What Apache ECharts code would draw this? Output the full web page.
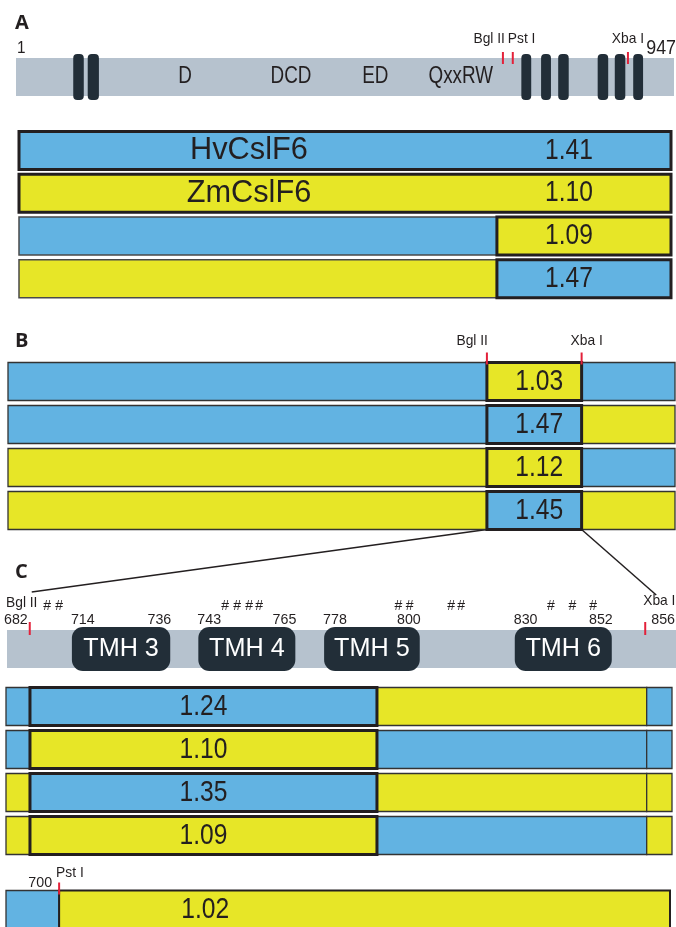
<!DOCTYPE html>
<html>
<head>
<meta charset="utf-8">
<script src="https://cdn.jsdelivr.net/npm/echarts@6/dist/echarts.min.js"></script>
<style>
  html, body { margin: 0; padding: 0; background: #fff; }
  #main { width: 676px; height: 927px; }
</style>
</head>
<body>
<div id="main"></div>
<script>
// ---------- data (x positions are % along each drawn bar) ----------
// A: full length CslF6 map
const aEnds = ['1', '947'];
const aMotifs = ['D', 'DCD', 'ED', 'QxxRW'];
const aMotifPos = [25.7, 41.8, 54.6, 67.6];
const aTmStart = [8.7, 10.9, 76.8, 79.8, 82.4, 88.4, 91.0, 93.8];
const aTmEnd = [10.3, 12.6, 78.3, 81.3, 84.0, 90.0, 92.6, 95.3];
const aSites = ['Bgl II', 'Pst I', 'Xba I'];
const aSitePos = [74.0, 75.5, 93.0];
// A: parent and chimeric constructs
const aNames = ['HvCslF6', 'ZmCslF6', '', ''];
const aLeft = ['Hv', 'Zm', 'Hv', 'Zm'];
const aRight = ['Hv', 'Zm', 'Zm', 'Hv'];
const aSwap = 73.3;
const aRatio = [1.41, 1.10, 1.09, 1.47];
// B: Bgl II - Xba I swaps
const bSites = ['Bgl II', 'Xba I'];
const bSitePos = [71.8, 86.0];
const bLeft = ['Hv', 'Hv', 'Zm', 'Zm'];
const bMid = ['Zm', 'Hv', 'Zm', 'Hv'];
const bRight = ['Hv', 'Zm', 'Hv', 'Zm'];
const bRatio = [1.03, 1.47, 1.12, 1.45];
// C: TMH 3-6 region
const cSites = ['Bgl II', 'Xba I'];
const cSiteRes = [682, 856];
const cSitePos = [3.4, 95.4];
const cTmh = ['TMH 3', 'TMH 4', 'TMH 5', 'TMH 6'];
const cTmhStartRes = [714, 743, 778, 830];
const cTmhEndRes = [736, 765, 800, 852];
const cTmhStart = [9.7, 28.6, 47.4, 75.9];
const cTmhEnd = [24.4, 43.1, 61.7, 90.4];
const cHashPos = [6.0, 7.8, 32.6, 34.4, 36.2, 37.7, 58.5, 60.2, 66.4, 67.9, 81.3, 84.5, 87.6];
const cCuts = [3.6, 55.7, 96.2];
const cSeg1 = ['Hv', 'Hv', 'Zm', 'Zm'];
const cSeg2 = ['Hv', 'Zm', 'Hv', 'Zm'];
const cSeg3 = ['Zm', 'Hv', 'Zm', 'Hv'];
const cSeg4 = ['Hv', 'Hv', 'Zm', 'Zm'];
const cRatio = [1.24, 1.10, 1.35, 1.09];
// bottom: Pst I construct
const dSite = ['Pst I'];
const dSiteRes = [700];
const dCut = 8.0;
const dLeft = 'Hv';
const dRight = 'Zm';
const dRatio = [1.02];

// ---------- styles ----------
const COL = { Hv: '#62b3e2', Zm: '#e7e627' };
const GREY = '#b6c2ce';
const DARK = '#222e38';
const RED = '#e3213a';
const INK = '#231f20';
const FONT = "'Liberation Sans', Arial, sans-serif";
const ROW_H = 38;

const grids = [
  { left: 16, top: 58, width: 658, height: 38, rows: 1 },   // A map
  { left: 19, top: 129, width: 652, height: 171, rows: 4 }, // A constructs
  { left: 8, top: 360, width: 667, height: 172, rows: 4 },  // B
  { left: 7, top: 630, width: 669, height: 38, rows: 1 },   // C map
  { left: 6, top: 685, width: 666, height: 172, rows: 4 },  // C constructs
  { left: 6, top: 892, width: 664, height: 43, rows: 1 }    // Pst I construct
];
const feats = grids.map(() => []);

const rect = (g, row, x0, x1, fill, stroke, lw, h, r) =>
  feats[g].push({ kind: 'rect', row, x0, x1, fill, stroke, lw, h: h || ROW_H, r: r || 0 });
const tick = (g, row, x, y1, y2) => feats[g].push({ kind: 'tick', row, x0: x, y1, y2 });
const text = (g, row, x, t, o) => feats[g].push(Object.assign({ kind: 'text', row, x0: x, text: t }, o));

const BIG = { size: 30, sx: 0.82 };
const SITE = { size: 15, sx: 0.92 };
const NUM = { size: 15, sx: 0.95 };

// A map
rect(0, 0, 0, 100, GREY, null, 0);
aTmStart.forEach((s, i) => rect(0, 0, s, aTmEnd[i], DARK, null, 0, 46, 4));
aMotifs.forEach((m, i) => text(0, 0, aMotifPos[i], m, { size: 23, sx: 0.82 }));
aSitePos.forEach(p => tick(0, 0, p, -25, -13));
text(0, 0, aSitePos[0], aSites[0], Object.assign({ align: 'right', dx: 2, dy: -38 }, SITE));
text(0, 0, aSitePos[1], aSites[1], Object.assign({ align: 'left', dx: -5, dy: -38 }, SITE));
text(0, 0, aSitePos[2], aSites[2], Object.assign({ dy: -38 }, SITE));
text(0, 0, 0, aEnds[0], { size: 17, sx: 0.9, align: 'left', dx: 1, dy: -29 });
text(0, 0, 100, aEnds[1], { size: 21, sx: 0.85, align: 'right', dx: 2, dy: -29 });

// A constructs
aLeft.forEach((l, i) => {
  if (l === aRight[i]) rect(1, i, 0, 100, COL[l], INK, 3);
  else rect(1, i, 0, aSwap, COL[l], '#4a4a4a', 1.5);
});
aLeft.forEach((l, i) => {
  if (l !== aRight[i]) rect(1, i, aSwap, 100, COL[aRight[i]], INK, 3);
  if (aNames[i]) text(1, i, aSwap / 2, aNames[i], { size: 32, sx: 0.96, dx: -9 });
  text(1, i, (aSwap + 100) / 2, aRatio[i].toFixed(2), Object.assign({ dx: -15 }, BIG));
});

// B constructs
bLeft.forEach((l, i) => {
  rect(2, i, 0, bSitePos[0], COL[l], '#333', 1.3);
  rect(2, i, bSitePos[1], 100, COL[bRight[i]], '#333', 1.3);
});
bMid.forEach((m, i) => {
  rect(2, i, bSitePos[0], bSitePos[1], COL[m], INK, 3);
  text(2, i, (bSitePos[0] + bSitePos[1]) / 2, bRatio[i].toFixed(2), Object.assign({ dx: 5 }, BIG));
});
bSitePos.forEach(p => tick(2, 0, p, -29, -17));
text(2, 0, bSitePos[0], bSites[0], Object.assign({ align: 'right', dx: 1, dy: -41 }, SITE));
text(2, 0, bSitePos[1], bSites[1], Object.assign({ dx: 5, dy: -41 }, SITE));

// C map
rect(3, 0, 0, 100, GREY, null, 0);
cTmhStart.forEach((s, i) => {
  rect(3, 0, s, cTmhEnd[i], DARK, null, 0, 44, 11);
  text(3, 0, (s + cTmhEnd[i]) / 2, cTmh[i], { size: 26, sx: 0.97, color: '#fff' });
  text(3, 0, s, String(cTmhStartRes[i]), Object.assign({ align: 'left', dx: -1, dy: -29 }, NUM));
  text(3, 0, cTmhEnd[i], String(cTmhEndRes[i]), Object.assign({ align: 'right', dx: 1, dy: -29 }, NUM));
});
cSitePos.forEach(p => tick(3, 0, p, -27, -14));
text(3, 0, cSitePos[0], String(cSiteRes[0]), Object.assign({ align: 'right', dx: -2, dy: -29 }, NUM));
text(3, 0, cSitePos[1], String(cSiteRes[1]), Object.assign({ align: 'left', dx: 6, dy: -29 }, NUM));
text(3, 0, 0, cSites[0], Object.assign({ align: 'left', dx: -1, dy: -46 }, SITE));
text(3, 0, cSitePos[1], cSites[1], Object.assign({ align: 'left', dx: -2, dy: -48 }, SITE));
cHashPos.forEach(p => text(3, 0, p, '#', { size: 14, sx: 1, dy: -43 }));

// C constructs
const cSegs = [cSeg1, cSeg2, cSeg3, cSeg4];
const cEdges = [0].concat(cCuts, [100]);
[0, 2, 3].forEach(k => cSegs[k].forEach((s, i) =>
  rect(4, i, cEdges[k], cEdges[k + 1], COL[s], '#333', 1.3)));
cSeg2.forEach((s, i) => {
  rect(4, i, cEdges[1], cEdges[2], COL[s], INK, 3);
  text(4, i, (cEdges[1] + cEdges[2]) / 2, cRatio[i].toFixed(2), BIG);
});

// Pst I construct
rect(5, 0, 0, dCut, COL[dLeft], '#333', 1.3);
rect(5, 0, dCut, 100, COL[dRight], INK, 2);
text(5, 0, 30, dRatio[0].toFixed(2), BIG);
tick(5, 0, dCut, -27, -15);
text(5, 0, dCut, String(dSiteRes[0]), Object.assign({ align: 'right', dx: -7, dy: -27 }, NUM));
text(5, 0, dCut, dSite[0], Object.assign({ align: 'left', dx: -3, dy: -37 }, SITE));

// ---------- chart ----------
function render(list) {
  return function (params, api) {
    const f = list[params.dataIndex];
    const c0 = api.coord([f.x0, f.row]);
    if (f.kind === 'rect') {
      const c1 = api.coord([f.x1, f.row]);
      return {
        type: 'rect',
        shape: { x: c0[0], y: c0[1] - f.h / 2, width: c1[0] - c0[0], height: f.h, r: f.r },
        style: { fill: f.fill, stroke: f.stroke, lineWidth: f.lw }
      };
    }
    if (f.kind === 'tick') {
      return {
        type: 'line',
        shape: { x1: c0[0], y1: c0[1] + f.y1, x2: c0[0], y2: c0[1] + f.y2 },
        style: { stroke: RED, lineWidth: 2 }
      };
    }
    return {
      type: 'text',
      x: c0[0] + (f.dx || 0),
      y: c0[1] + (f.dy || 0),
      scaleX: f.sx || 1,
      style: {
        text: f.text, fill: f.color || INK, fontSize: f.size, fontFamily: FONT,
        align: f.align || 'center', verticalAlign: 'middle',
        textAlign: f.align || 'center', textVerticalAlign: 'middle'
      }
    };
  };
}

const chart = echarts.init(document.getElementById('main'), null, { renderer: 'canvas' });
const letter = (t, top) => ({
  text: t, left: 10, top,
  textStyle: { fontSize: 20, fontWeight: 'bold', fontFamily: "'Open Sans', 'Liberation Sans', sans-serif", color: INK }
});

chart.setOption({
  animation: false,
  backgroundColor: '#fff',
  title: [letter('A', 8), letter('B', 326), letter('C', 557)],
  grid: grids.map(g => ({ left: g.left, top: g.top, width: g.width, height: g.height })),
  xAxis: grids.map((g, i) => ({ type: 'value', gridIndex: i, min: 0, max: 100, show: false })),
  yAxis: grids.map((g, i) => ({
    type: 'category', gridIndex: i, inverse: true, show: false,
    data: Array.from({ length: g.rows }, (_, k) => 'row' + k)
  })),
  series: feats.map((list, i) => ({
    type: 'custom',
    xAxisIndex: i,
    yAxisIndex: i,
    silent: true,
    clip: false,
    data: list.map(f => [f.x0, f.row]),
    renderItem: render(list)
  }))
});

// zoom lines linking panel B to panel C, placed through both grids' scales
const bL = chart.convertToPixel({ gridIndex: 2 }, [bSitePos[0], 3]);
const bR = chart.convertToPixel({ gridIndex: 2 }, [bSitePos[1], 3]);
const cL = chart.convertToPixel({ gridIndex: 3 }, [cSitePos[0], 0]);
const cR = chart.convertToPixel({ gridIndex: 3 }, [cSitePos[1], 0]);
chart.setOption({
  graphic: [
    { type: 'line', silent: true, shape: { x1: bL[0], y1: bL[1] + ROW_H / 2, x2: cL[0] + 2, y2: cL[1] - 57 }, style: { stroke: INK, lineWidth: 1.5 } },
    { type: 'line', silent: true, shape: { x1: bR[0], y1: bR[1] + ROW_H / 2, x2: cR[0] + 11, y2: cR[1] - 54 }, style: { stroke: INK, lineWidth: 1.5 } }
  ]
});
</script>
</body>
</html>
